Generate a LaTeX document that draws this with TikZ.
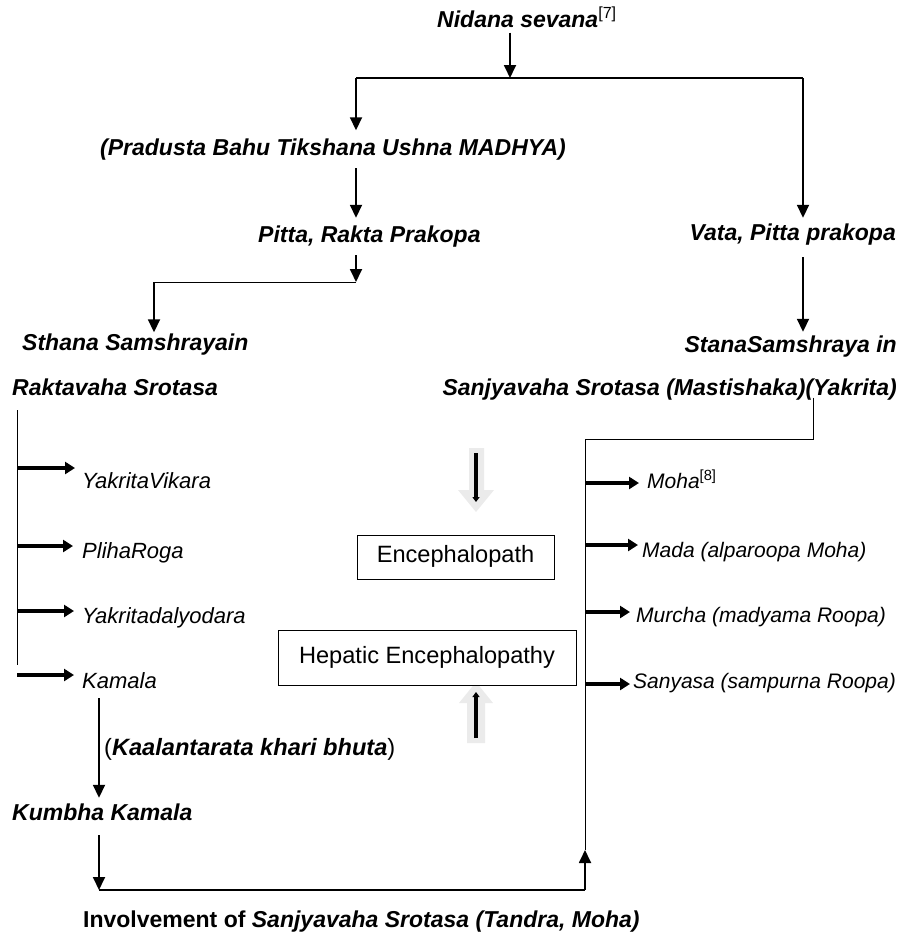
\documentclass[tikz,border=0pt]{standalone}
\usepackage{fontspec}
\setmainfont{Liberation Sans}
\usetikzlibrary{arrows.meta}
\begin{document}
\begin{tikzpicture}[x=1pt,y=-1pt,
 every node/.style={inner sep=0pt,text height=16pt,text depth=5pt},
 bi/.style={font=\fontsize{23}{27}\selectfont\bfseries\itshape},
 it/.style={font=\fontsize{22}{26}\selectfont\itshape},
 itr/.style={font=\fontsize{21}{25}\selectfont\itshape},
 up/.style={font=\fontsize{23.6}{27}\selectfont},
 arr/.style={line width=1.8pt,-{Triangle[width=12pt,length=13pt]}},
 barr/.style={line width=3.2pt,-{Triangle[width=12pt,length=10pt]}},
 ln/.style={line width=1pt},
 box/.style={draw,line width=1pt,fill=white,up},
 grey/.style={fill=black!8}]
\useasboundingbox (0,0) rectangle (901,932);
\newcommand{\supr}[1]{\textsuperscript{\mdseries\upshape #1}}

% texts
\node[bi,anchor=west] (nid) at (437,22) {Nidana sevana\supr{[7]}};
\node[bi,anchor=west] (prad) at (100,150) {(Pradusta Bahu Tikshana Ushna MADHYA)};
\node[bi,anchor=west] (pitta) at (258,237) {Pitta, Rakta Prakopa};
\node[bi,anchor=east] (vata) at (896,235) {Vata, Pitta prakopa};
\node[bi,anchor=west] (sthana) at (22,345) {Sthana Samshrayain};
\node[bi,anchor=west] (rakta) at (12,390) {Raktavaha Srotasa};
\node[bi,anchor=east] (stana) at (897,347) {StanaSamshraya in};
\node[bi,anchor=east] (sanj) at (897,390) {Sanjyavaha Srotasa (Mastishaka)(Yakrita)};
\node[it,anchor=west] (yv) at (82,483) {YakritaVikara};
\node[it,anchor=west] (pr) at (82,553) {PlihaRoga};
\node[it,anchor=west] (yd) at (82,618) {Yakritadalyodara};
\node[it,anchor=west] (kam) at (82,683) {Kamala};
\node[up,anchor=west] (kaal) at (104,750) {(\textbf{\textit{Kaalantarata khari bhuta}})};
\node[bi,anchor=west] (kum) at (12,815) {Kumbha Kamala};
\node[font=\fontsize{23}{27}\selectfont,anchor=west] (inv) at (83,922) {\textbf{Involvement of \textit{Sanjyavaha Srotasa (Tandra, Moha)}}};
\node[itr,anchor=west] (moha) at (647,483) {Moha\supr{[8]}};
\node[itr,anchor=west] (mada) at (642,552) {Mada (alparoopa Moha)};
\node[itr,anchor=west] (murcha) at (636,617) {Murcha (madyama Roopa)};
\node[itr,anchor=west] (sany) at (633,683) {Sanyasa (sampurna Roopa)};

% grey block arrows
\fill[grey] (469,448) -- (484,448) -- (484,490) -- (494,490) -- (476,512) -- (458,490) -- (469,490) -- cycle;
\draw[line width=3.5pt,-{Triangle[width=7pt,length=5pt]}] (476,453) -- (476,502);
\fill[grey] (467,743) -- (485,743) -- (485,703) -- (493,703) -- (476,682) -- (459,703) -- (467,703) -- cycle;
\draw[line width=3.5pt,-{Triangle[width=7pt,length=5pt]}] (476,738) -- (476,692);

% boxes
\node[box,minimum width=197pt,minimum height=44pt] (enc) at (455.5,557) {Encephalopath};
\node[box,minimum width=298pt,minimum height=55pt] (hep) at (427,657.5) {Hepatic Encephalopathy};

% junctions
\coordinate (j1) at (510,78);
\coordinate (jl) at (356,78);
\coordinate (jr) at (803,78);
\coordinate (j2) at (356,282);
\coordinate (j3) at (154,282);
\coordinate (r1) at (813,439);
\coordinate (r2) at (585,439);
\coordinate (l1) at (17,410);
\coordinate (l2) at (17,665);
\coordinate (a1) at (17,468);
\coordinate (a2) at (17,546);
\coordinate (a3) at (17,611);
\coordinate (a4) at (17,675);
\coordinate (m1) at (585,483);
\coordinate (m2) at (585,545);
\coordinate (m3) at (585,612);
\coordinate (m4) at (585,684);
\coordinate (kx) at (99,700);
\coordinate (b1) at (99,890);
\coordinate (b2) at (585,890);
\coordinate (b3) at (585,850);

% connectors
\draw[arr] (j1 |- nid.south) -- (j1);
\draw[line width=1.4pt] (jl) -- (jr);
\draw[arr] (jl) -- ([yshift=9pt]jl |- prad.north);
\draw[arr] ([yshift=-7.5pt]jl |- prad.south) -- ([yshift=8.5pt]jl |- pitta.north);
\draw[arr] (jr) -- ([yshift=6.5pt]jr |- vata.north);
\draw[arr] ([yshift=-7.5pt]j2 |- pitta.south) -- (j2);
\draw[ln] (j2) -- (j3);
\draw[arr] (j3) -- ([yshift=2pt]j3 |- sthana.north);
\draw[arr] ([yshift=-11.5pt]jr |- vata.south) -- ([yshift=4.5pt]jr |- stana.north);
\draw[ln] ([yshift=3pt]r1 |- sanj.south) -- (r1) -- (r2) -- (b3);
\draw[ln] (l1) -- (l2);
\draw[barr,shorten >=7pt] (a1) -- (a1 -| yv.west);
\draw[barr,shorten >=9pt] (a2) -- (a2 -| pr.west);
\draw[barr,shorten >=8pt] (a3) -- (a3 -| yd.west);
\draw[barr,shorten >=8pt] (a4) -- (a4 -| kam.west);
\draw[barr,shorten >=8pt] (m1) -- (m1 -| moha.west);
\draw[barr,shorten >=4pt] (m2) -- (m2 -| mada.west);
\draw[barr,shorten >=6pt] (m3) -- (m3 -| murcha.west);
\draw[barr,shorten >=3pt] (m4) -- (m4 -| sany.west);
\draw[arr] ([yshift=-4.5pt]kx |- kam.south) -- ([yshift=6.5pt]kx |- kum.north);
\draw[arr] ([yshift=-9.5pt]b1 |- kum.south) -- (b1);
\draw[line width=1.4pt] (b1) -- (b2);
\draw[arr] (b2) -- (b3);
\end{tikzpicture}
\end{document}
